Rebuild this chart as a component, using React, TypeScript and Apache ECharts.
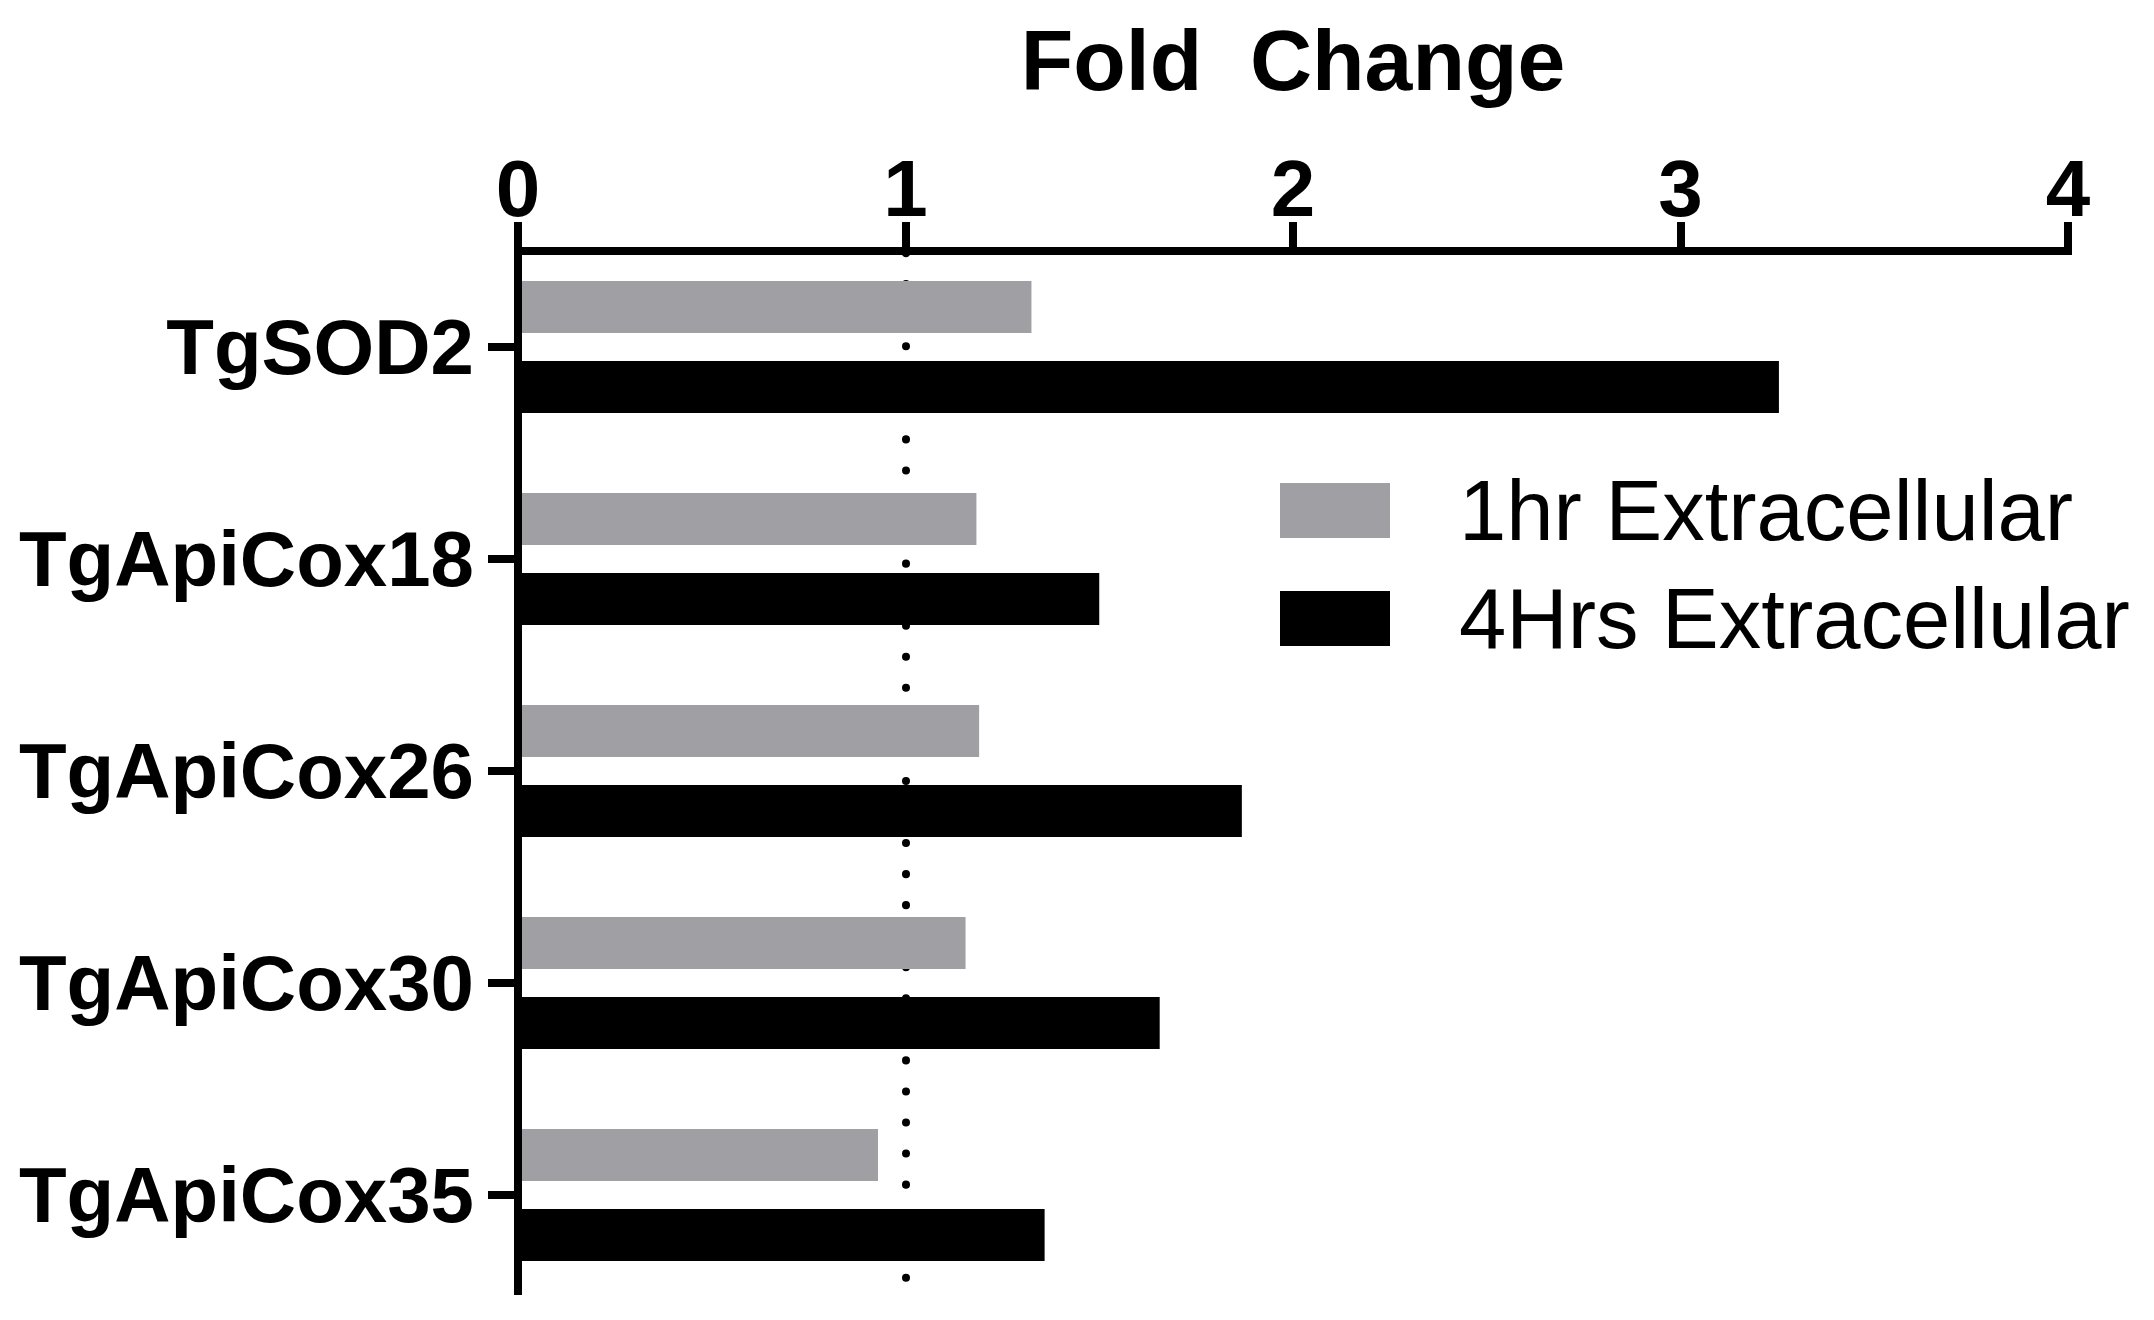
import React, { useEffect, useRef } from "react";
import * as echarts from "echarts";

const categories = ["TgSOD2", "TgApiCox18", "TgApiCox26", "TgApiCox30", "TgApiCox35"];
const seriesNames = ["1hr Extracellular", "4Hrs Extracellular"];
const oneHrValues = [1.325, 1.183, 1.19, 1.155, 0.929];
const fourHrValues = [3.254, 1.5, 1.868, 1.656, 1.359];
const xMin = 0;
const xMax = 4;
const xInterval = 1;
const referenceValue = 1;
const axisTitle = "Fold  Change";

const FONT = "'Liberation Sans', Arial, sans-serif";
const GRAY = "#a0a0a4";
const BLACK = "#000000";

export default function App() {
  const ref = useRef<HTMLDivElement>(null);

  useEffect(() => {
    document.body.style.margin = "0";
    const chart = echarts.init(ref.current!, null, { renderer: "svg" });
    const option: any = {
      animation: false,
      backgroundColor: "#ffffff",
      textStyle: { fontFamily: FONT, color: BLACK },
      legend: {
        data: seriesNames,
        orient: "vertical",
        left: 1280,
        top: 468,
        padding: 0,
        itemWidth: 110,
        itemHeight: 55,
        itemGap: 23,
        icon: "rect",
        textStyle: {
          fontFamily: FONT,
          fontSize: 85,
          color: BLACK,
          padding: [0, 0, 0, 64],
        },
      },
      grid: [
        { left: 518, right: 86, top: 241, bottom: 19, containLabel: false },
        { left: 518, right: 86, top: 251, bottom: 29, containLabel: false },
      ],
      xAxis: [
        {
          gridIndex: 0,
          type: "value",
          min: xMin,
          max: xMax,
          interval: xInterval,
          show: false,
        },
        {
          gridIndex: 1,
          type: "value",
          position: "top",
          min: xMin,
          max: xMax,
          interval: xInterval,
          z: 10,
          name: axisTitle,
          nameLocation: "middle",
          nameGap: 148,
          nameTextStyle: {
            fontFamily: FONT,
            fontSize: 86,
            fontWeight: "bold",
            color: BLACK,
          },
          axisLine: { show: true, lineStyle: { color: BLACK, width: 8, cap: "square" } },
          axisTick: { show: true, length: 29, lineStyle: { color: BLACK, width: 8 } },
          axisLabel: {
            fontFamily: FONT,
            fontSize: 80,
            fontWeight: "bold",
            color: BLACK,
            margin: 23,
          },
          splitLine: { show: false },
        },
      ],
      yAxis: [
        {
          gridIndex: 0,
          type: "category",
          data: categories,
          inverse: true,
          z: 10,
          axisLine: { show: false },
          axisTick: {
            show: true,
            alignWithLabel: true,
            length: 30,
            lineStyle: { color: BLACK, width: 8 },
          },
          axisLabel: {
            fontFamily: FONT,
            fontSize: 78,
            fontWeight: "bold",
            color: BLACK,
            margin: 44,
          },
          splitLine: { show: false },
        },
        {
          gridIndex: 1,
          type: "value",
          min: 0,
          max: 1,
          inverse: true,
          z: 10,
          axisLine: { show: true, lineStyle: { color: BLACK, width: 8, cap: "square" } },
          axisTick: { show: false },
          axisLabel: { show: false },
          splitLine: { show: false },
        },
      ],
      series: [
        {
          name: seriesNames[0],
          type: "bar",
          xAxisIndex: 0,
          yAxisIndex: 0,
          data: oneHrValues,
          barWidth: 52,
          barGap: "54%",
          z: 2,
          itemStyle: { color: GRAY },
        },
        {
          name: seriesNames[1],
          type: "bar",
          xAxisIndex: 0,
          yAxisIndex: 0,
          data: fourHrValues,
          barWidth: 52,
          barGap: "54%",
          z: 2,
          itemStyle: { color: BLACK },
        },
        {
          name: "reference",
          type: "line",
          xAxisIndex: 1,
          yAxisIndex: 1,
          data: [],
          z: 1,
          silent: true,
          markLine: {
            silent: true,
            z: 1,
            symbol: ["none", "none"],
            label: { show: false },
            lineStyle: {
              color: BLACK,
              width: 8,
              type: [0.1, 30.95],
              cap: "round",
              dashOffset: 29,
            },
            emphasis: { disabled: true },
            data: [{ xAxis: referenceValue }],
          },
        },
      ],
    };
    chart.setOption(option);
    return () => {
      chart.dispose();
    };
  }, []);

  return (
    <div
      ref={ref}
      style={{ position: "fixed", left: 0, top: 0, width: 2154, height: 1320, background: "#fff" }}
    />
  );
}
